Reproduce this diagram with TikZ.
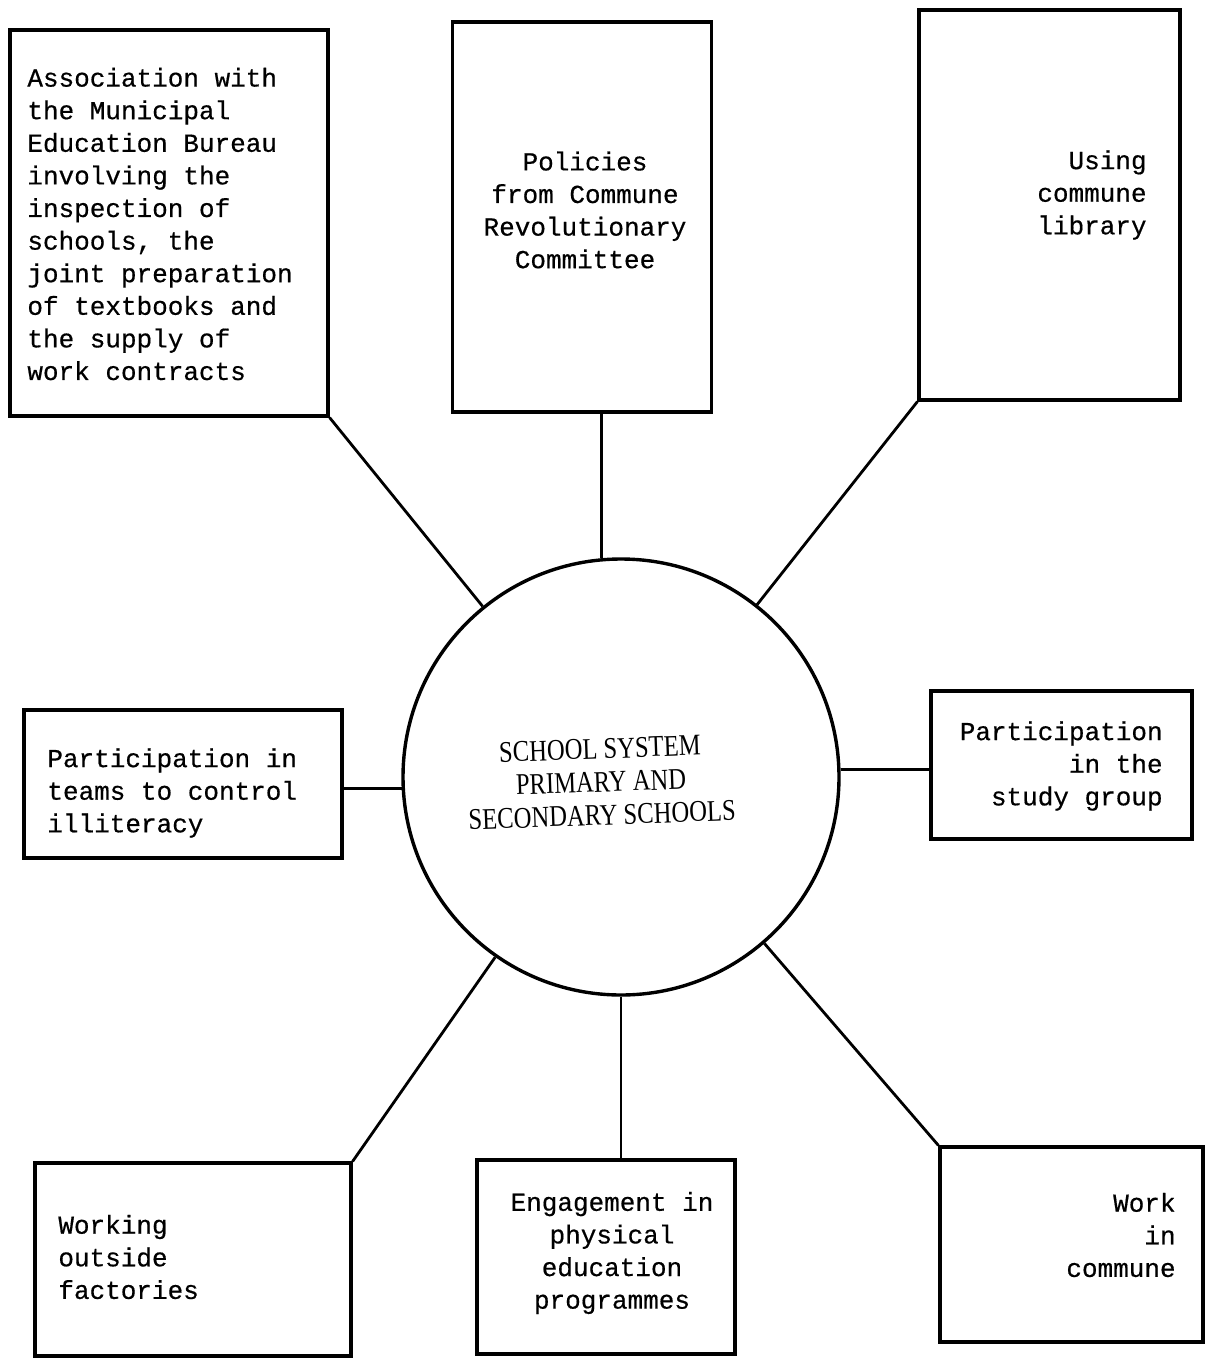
\documentclass[tikz,border=0pt]{standalone}
\usepackage{fontspec}
\setmonofont[FakeBold=0.5]{Liberation Mono}
\newfontfamily\condserif[FakeStretch=0.82]{Liberation Serif}
\begin{document}
\begin{tikzpicture}[x=0.5pt,y=-0.5pt,
  box/.style={draw,line width=1.6pt,inner sep=0pt},
  hub/.style={draw,circle,line width=1.7pt,inner sep=0pt,minimum size=218pt},
  typed/.style={inner sep=0pt,font=\ttfamily\fontsize{13pt}{16.3pt}\selectfont},
  link/.style={line width=1.4pt}]
\useasboundingbox (0,0) rectangle (1211,1364);

% central circle
\node[hub] (school) at (621,777) {};
\node[inner sep=0pt,align=center,rotate=2,
      font=\condserif\fontsize{15pt}{16.6pt}\selectfont] (school-t) at (601,782)
  {SCHOOL SYSTEM\\PRIMARY AND\\SECONDARY SCHOOLS};

% surrounding boxes
\node[box,minimum width=159pt,minimum height=193pt]  (assoc)    at (169,223) {};
\node[box,minimum width=129.5pt,minimum height=195pt](policies) at (582,217) {};
\node[box,minimum width=130.5pt,minimum height=195pt](library)  at (1049.5,205) {};
\node[box,minimum width=159pt,minimum height=74pt]   (teams)    at (183,784) {};
\node[box,minimum width=130.5pt,minimum height=74pt] (study)    at (1061.5,765) {};
\node[box,minimum width=158pt,minimum height=96.5pt] (factories) at (193,1259.5) {};
\node[box,minimum width=129pt,minimum height=97pt]   (physical) at (606,1257) {};
\node[box,minimum width=131.5pt,minimum height=97.5pt](work)    at (1071.5,1244.5) {};

% box texts
\node[typed,align=left,anchor=west] (assoc-t) at (27,224)
  {Association with\\the Municipal\\Education Bureau\\involving the\\inspection of\\schools, the\\joint preparation\\of textbooks and\\the supply of\\work contracts};
\node[typed,align=center] (policies-t) at (585,210)
  {Policies\\from Commune\\Revolutionary\\Committee};
\node[typed,align=right,anchor=east] (library-t) at (1147,195)
  {Using\\commune\\library};
\node[typed,align=left,anchor=west] (teams-t) at (47,793)
  {Participation in\\teams to control\\illiteracy};
\node[typed,align=right,anchor=east] (study-t) at (1163,766)
  {Participation\\in the\\study group};
\node[typed,align=left,anchor=west] (factories-t) at (58,1257)
  {Working\\outside\\factories};
\node[typed,align=center] (physical-t) at (612,1253)
  {Engagement in\\physical\\education\\programmes};
\node[typed,align=right,anchor=east] (work-t) at (1176,1235)
  {Work\\in\\commune};

% spokes
\draw[link] (assoc.south east) -- (school);
\draw[link] (policies.south -| school.95) -- (school.95);
\draw[link] (library.south west) -- (school);
\draw[link] (teams.east |- school.183) -- (school.183);
\draw[link] (school.2) -- (study.west |- school.2);
\draw[link] (factories.north east) -- (school);
\draw[link] (school.south) -- (physical.north -| school.south);
\draw[link] (work.north west) -- (school);
\end{tikzpicture}
\end{document}
